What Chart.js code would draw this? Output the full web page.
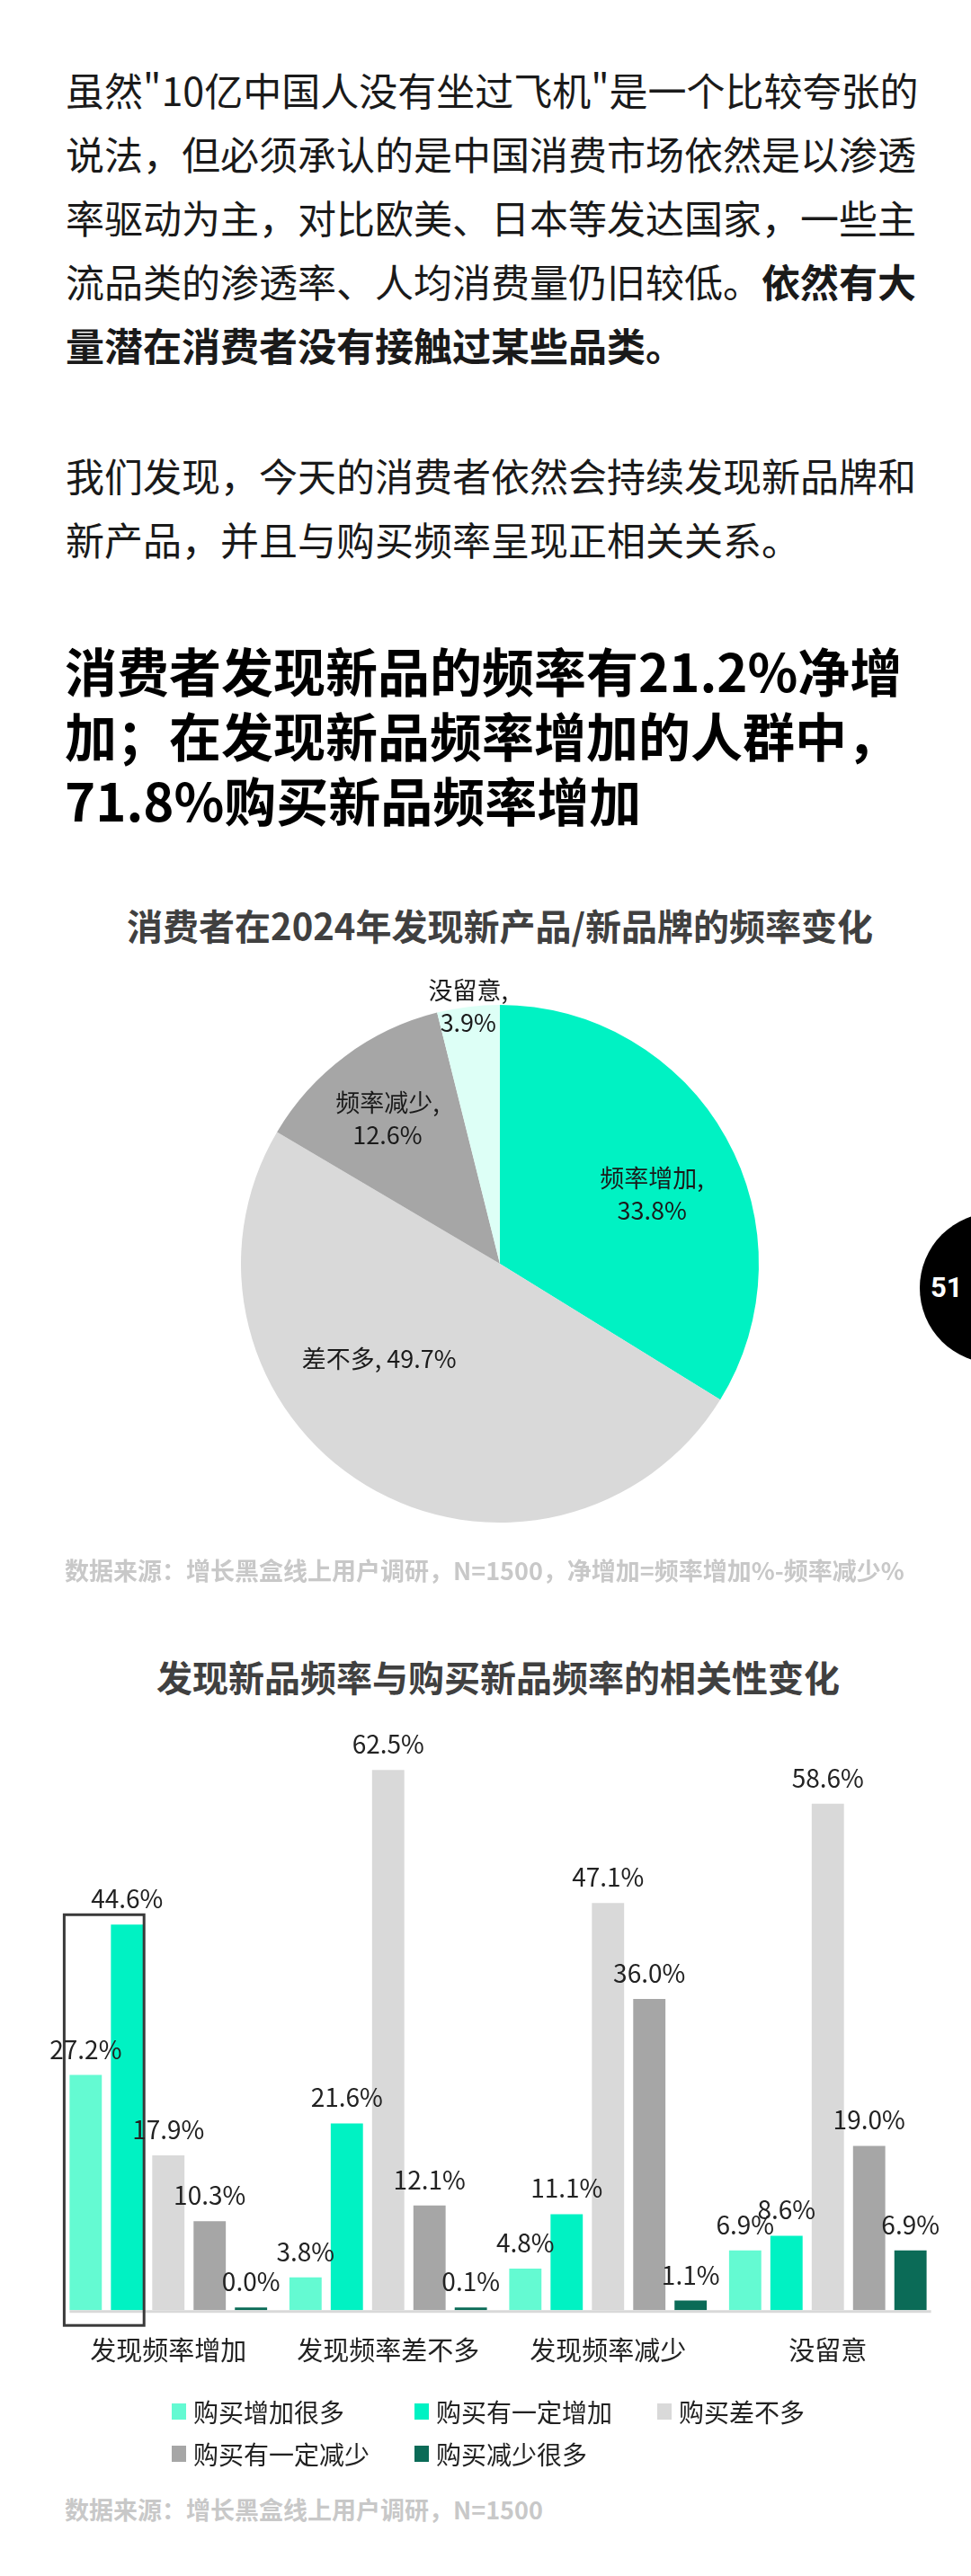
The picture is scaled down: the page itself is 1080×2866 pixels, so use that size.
<!DOCTYPE html>
<html lang="zh">
<head>
  <meta charset="UTF-8">
  <title>发现新品频率</title>
  <script src="https://cdn.jsdelivr.net/npm/chart.js@4"></script>
  <style>
    html, body { margin: 0; padding: 0; background: #fff; }
    body {
      position: relative;
      width: 1080px;
      height: 2866px;
      overflow: hidden;
      font-family: "Noto Sans CJK SC", "Noto Sans", sans-serif;
      color: #1a1a1a;
    }
    .abs { position: absolute; white-space: nowrap; }
    .para { left: 73px; font-size: 43px; line-height: 71px; }
    .head { left: 72px; top: 709px; font-size: 58px; line-height: 72px; font-weight: 700; color: #000; }
    .ctitle { left: 0; font-size: 40px; line-height: 48px; font-weight: 700; color: #404040; text-align: center; }
    .src { left: 72px; font-size: 27px; line-height: 40px; font-weight: 700; color: #c8c8c8; }
    .badge {
      position: absolute; left: 1023px; top: 1349px; width: 168px; height: 168px;
      border-radius: 50%; background: #000;
    }
    .badge span {
      position: absolute; left: 12px; top: 64px; font-size: 31px; line-height: 40px;
      font-weight: 700; color: #fff; font-family: Roboto, "Noto Sans", sans-serif;
    }
    #legend { position: absolute; left: 191px; top: 2659px; }
    .lg-row { display: flex; height: 47px; align-items: center; }
    .lg-item { width: 270px; display: flex; align-items: center; font-size: 28px; color: #222; }
    .lg-box { width: 16px; height: 18px; margin-right: 8px; }
  </style>
</head>
<body>
  <div class="abs para" style="top:64px">
    虽然"10亿中国人没有坐过飞机"是一个比较夸张的<br>
    说法，但必须承认的是中国消费市场依然是以渗透<br>
    率驱动为主，对比欧美、日本等发达国家，一些主<br>
    流品类的渗透率、人均消费量仍旧较低。<b>依然有大</b><br>
    <b>量潜在消费者没有接触过某些品类。</b>
  </div>
  <div class="abs para" style="top:493px">
    我们发现，今天的消费者依然会持续发现新品牌和<br>
    新产品，并且与购买频率呈现正相关关系。
  </div>
  <div class="abs head">
    消费者发现新品的频率有21.2%净增<br>
    加；在发现新品频率增加的人群中，<br>
    71.8%购买新品频率增加
  </div>

  <div class="abs ctitle" style="top:1005px; width:1112px">消费者在2024年发现新产品/新品牌的频率变化</div>
  <canvas id="pieChart" width="700" height="700" style="position:absolute; left:206px; top:1056px"></canvas>
  <div class="abs src" style="top:1727px">数据来源：增长黑盒线上用户调研，N=1500，净增加=频率增加%-频率减少%</div>

  <div class="badge"><span>51</span></div>

  <div class="abs ctitle" style="top:1841px; width:1108px">发现新品频率与购买新品频率的相关性变化</div>
  <canvas id="barChart" width="1080" height="829" style="position:absolute; left:0; top:1860px"></canvas>
  <div id="legend"></div>
  <div class="abs src" style="top:2772px">数据来源：增长黑盒线上用户调研，N=1500</div>

  <script>
    // 饼图数据
    const pieLabels = ['频率增加', '差不多', '频率减少', '没留意'];
    const pieValues = [33.8, 49.7, 12.6, 3.9];
    const pieColors = ['#00f2c3', '#d9d9d9', '#a6a6a6', '#ddfff6'];

    // 柱状图数据
    const barCategories = ['发现频率增加', '发现频率差不多', '发现频率减少', '没留意'];
    const seriesNames = ['购买增加很多', '购买有一定增加', '购买差不多', '购买有一定减少', '购买减少很多'];
    const buyMuchMore = [27.2, 3.8, 4.8, 6.9];
    const buySomeMore = [44.6, 21.6, 11.1, 8.6];
    const buySame = [17.9, 62.5, 47.1, 58.6];
    const buySomeLess = [10.3, 12.1, 36.0, 19.0];
    const buyMuchLess = [0.0, 0.1, 1.1, 6.9];
    const barColors = ['#64fad2', '#00f2c3', '#d9d9d9', '#a6a6a6', '#0b6b57'];

    const FONT = '"Noto Sans CJK SC", "Noto Sans", sans-serif';

    // 饼图标签位置微调（半径比例、角度偏移）
    const pieLabelRadius = [0.645, 0.593, 0.71, 1.0];
    const pieLabelShift = [4.7, 20.7, -1, 0];
    const pieLabelBreak = [true, false, true, true];

    const pieLabelPlugin = {
      id: 'pieLabels',
      afterDatasetsDraw(chart) {
        const ctx = chart.ctx;
        const meta = chart.getDatasetMeta(0);
        ctx.save();
        ctx.font = '27px ' + FONT;
        ctx.fillStyle = '#1a1a1a';
        ctx.textAlign = 'center';
        ctx.textBaseline = 'middle';
        meta.data.forEach((arc, i) => {
          const p = arc.getProps(['x', 'y', 'startAngle', 'endAngle', 'outerRadius'], true);
          const a = (p.startAngle + p.endAngle) / 2 + pieLabelShift[i] * Math.PI / 180;
          const r = p.outerRadius * pieLabelRadius[i];
          const lx = p.x + Math.cos(a) * r;
          const ly = p.y + Math.sin(a) * r;
          const val = pieValues[i].toFixed(1) + '%';
          if (pieLabelBreak[i]) {
            ctx.fillText(pieLabels[i] + ',', lx, ly - 18);
            ctx.fillText(val, lx, ly + 18);
          } else {
            ctx.fillText(pieLabels[i] + ', ' + val, lx, ly);
          }
        });
        ctx.restore();
      }
    };

    new Chart(document.getElementById('pieChart'), {
      type: 'pie',
      data: {
        labels: pieLabels,
        datasets: [{ data: pieValues, backgroundColor: pieColors, borderWidth: 0 }]
      },
      options: {
        responsive: false,
        animation: false,
        devicePixelRatio: 1,
        layout: { padding: 62 },
        plugins: { legend: { display: false }, tooltip: { enabled: false } }
      },
      plugins: [pieLabelPlugin]
    });

    // 底部灰色轴线
    const baseLinePlugin = {
      id: 'baseLine',
      beforeDatasetsDraw(chart) {
        const ctx = chart.ctx;
        const first = chart.getDatasetMeta(0).data[0];
        const lastMeta = chart.getDatasetMeta(chart.data.datasets.length - 1);
        const last = lastMeta.data[lastMeta.data.length - 1];
        const y = chart.chartArea.bottom + 1.5;
        ctx.save();
        ctx.strokeStyle = '#d9d9d9';
        ctx.lineWidth = 3;
        ctx.beginPath();
        ctx.moveTo(first.x - first.width / 2, y);
        ctx.lineTo(last.x + last.width / 2 + 5, y);
        ctx.stroke();
        ctx.restore();
      }
    };

    // 数值标签 + 第一组高亮框
    const barLabelPlugin = {
      id: 'barLabels',
      afterDatasetsDraw(chart) {
        const ctx = chart.ctx;
        ctx.save();
        const b0 = chart.getDatasetMeta(0).data[0];
        const b1 = chart.getDatasetMeta(1).data[0];
        ctx.strokeStyle = '#3a3a3a';
        ctx.lineWidth = 3;
        const left = b0.x - b0.width / 2 - 6;
        const right = b1.x + b1.width / 2 + 1;
        const top = b1.y - 11;
        const bottom = chart.chartArea.bottom + 17;
        ctx.strokeRect(left, top, right - left, bottom - top);

        ctx.font = '28px ' + FONT;
        ctx.fillStyle = '#222';
        ctx.textAlign = 'center';
        ctx.textBaseline = 'alphabetic';
        chart.data.datasets.forEach((ds, di) => {
          chart.getDatasetMeta(di).data.forEach((bar, i) => {
            ctx.fillText(ds.data[i].toFixed(1) + '%', bar.x, bar.y - 18);
          });
        });
        ctx.restore();
      }
    };

    const seriesData = [buyMuchMore, buySomeMore, buySame, buySomeLess, buyMuchLess];

    const barChart = new Chart(document.getElementById('barChart'), {
      type: 'bar',
      data: {
        labels: barCategories,
        datasets: seriesNames.map((name, i) => ({
          label: name,
          data: seriesData[i],
          backgroundColor: barColors[i],
          barPercentage: 0.78,
          categoryPercentage: 0.94,
          minBarLength: 3
        }))
      },
      options: {
        responsive: false,
        animation: false,
        devicePixelRatio: 1,
        layout: { padding: { left: 65, right: 37, top: 37, bottom: 30 } },
        plugins: { legend: { display: false }, tooltip: { enabled: false } },
        scales: {
          y: { display: false, min: 0, max: 70 },
          x: {
            grid: { display: false, drawTicks: false },
            border: { display: false },
            ticks: { color: '#222', padding: 27, font: { size: 29, family: FONT } }
          }
        }
      },
      plugins: [baseLinePlugin, barLabelPlugin]
    });

    // 图例（按数据集生成，3 列）
    const legendEl = document.getElementById('legend');
    const ds = barChart.data.datasets;
    for (let r = 0; r < ds.length; r += 3) {
      const row = document.createElement('div');
      row.className = 'lg-row';
      ds.slice(r, r + 3).forEach(d => {
        const item = document.createElement('div');
        item.className = 'lg-item';
        item.innerHTML = '<span class="lg-box" style="background:' + d.backgroundColor + '"></span>' + d.label;
        row.appendChild(item);
      });
      legendEl.appendChild(row);
    }
  </script>
</body>
</html>
